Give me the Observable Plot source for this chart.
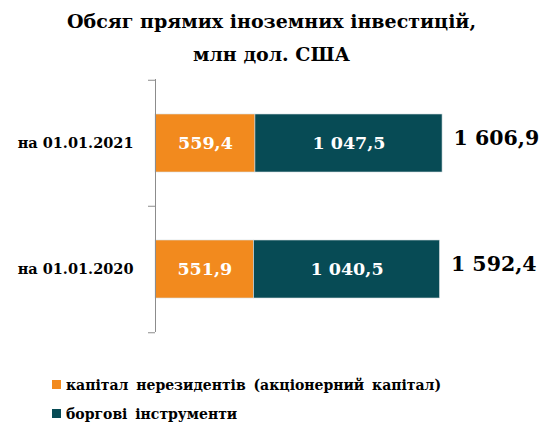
<!DOCTYPE html>
<html>
<head>
<meta charset="utf-8">
<script src="https://cdn.jsdelivr.net/npm/d3@7"></script>
<script src="https://cdn.jsdelivr.net/npm/@observablehq/plot@0.6"></script>
<style>
  body { margin: 0; background: #fff; font-family: "DejaVu Serif", serif; }
  #wrap { width: 550px; height: 424px; position: relative; overflow: hidden; }
  #title { box-sizing: border-box; height: 70px; padding-top: 5px; padding-right: 7px; text-align: center;
           font-size: 19px; font-weight: bold; line-height: 33px; color: #000; }
  #chart svg { display: block; }
  #legend { box-sizing: border-box; padding-top: 10px; padding-left: 52px; }
  .row { height: 29px; display: flex; align-items: center; font-size: 14px; font-weight: bold; color: #000; word-spacing: 3px; }
  .sw { width: 9px; height: 9px; margin-right: 5px; flex: none; }
</style>
</head>
<body>
<div id="wrap">
  <div id="title">Обсяг прямих іноземних інвестицій,<br>млн дол. США</div>
  <div id="chart"></div>
  <div id="legend"></div>
</div>
<script>
const dates = ["на 01.01.2021", "на 01.01.2020"];
const equity = [559.4, 551.9];
const debt = [1047.5, 1040.5];
const totals = [1606.9, 1592.4];
const seriesNames = ["капітал нерезидентів (акціонерний капітал)", "боргові інструменти"];
const colors = ["#F28A1E", "#074B55"];

const data = dates.flatMap((d, i) => [
  {date: d, type: seriesNames[0], value: equity[i]},
  {date: d, type: seriesNames[1], value: debt[i]}
]);

const loc = d3.formatLocale({decimal: ",", thousands: " ", grouping: [3], currency: ["", ""]});
const fmt = loc.format(",.1f");

const H = 290, MT = 9, MB = 28;
const step = (H - MT - MB) / 2;
const axisColor = "#8c8c8c";
const serif = "'DejaVu Serif', serif";

const plot = Plot.plot({
  width: 550,
  height: H,
  marginTop: MT,
  marginBottom: MB,
  marginLeft: 155,
  marginRight: 2,
  style: {fontFamily: serif, background: "white"},
  x: {domain: [0, 2200], axis: null},
  y: {domain: dates, paddingInner: 0.54, paddingOuter: 0.27, axis: null},
  color: {domain: seriesNames, range: colors},
  marks: [
    Plot.barX(data, Plot.stackX({x: "value", y: "date", fill: "type", stroke: "#d5dde0", strokeWidth: 0.6})),
    Plot.text(data, Plot.stackX({x: "value", y: "date", text: d => fmt(d.value), fill: "white", fontSize: 17.5, fontWeight: "bold", fontFamily: serif})),
    Plot.text(dates, {x: (d, i) => totals[i], y: d => d, text: (d, i) => fmt(totals[i]), textAnchor: "start", dx: 11, dy: -5, fontSize: 20.5, fontWeight: "bold", fill: "black", fontFamily: serif}),
    Plot.ruleX([0], {stroke: axisColor}),
    Plot.axisY({tickSize: 0, tickPadding: 22, fontSize: 14.5, fontWeight: "bold", fill: "black", label: null, fontFamily: serif}),
    Plot.axisY({ticks: dates, tickSize: 7, tickFormat: () => "", dy: -step / 2, stroke: axisColor, label: null}),
    Plot.axisY({ticks: [dates[dates.length - 1]], tickSize: 7, tickFormat: () => "", dy: step / 2, stroke: axisColor, label: null})
  ]
});
document.getElementById("chart").appendChild(plot);

const legend = document.getElementById("legend");
seriesNames.forEach((name, i) => {
  const row = document.createElement("div");
  row.className = "row";
  const sw = document.createElement("span");
  sw.className = "sw";
  sw.style.background = colors[i];
  const t = document.createElement("span");
  t.textContent = name;
  row.appendChild(sw);
  row.appendChild(t);
  legend.appendChild(row);
});
</script>
</body>
</html>
